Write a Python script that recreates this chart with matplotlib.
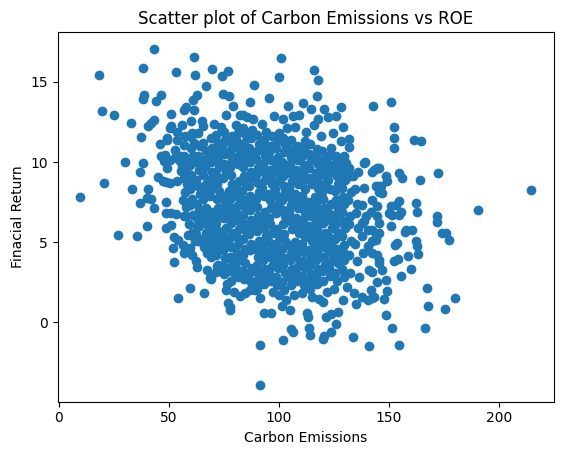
import numpy as np
from matplotlib import pyplot as plt

# points read one by one around the edge of the cloud
edge_carbon = [
    43.1, 18.5, 38.4, 61.5, 53.2, 61.8, 69.5, 66.7, 38.8, 38.4,
    46.4, 44.3, 62.7, 61.2, 19.7, 25.3, 32.8, 37.3, 40.4, 41.9,
    43.3, 50.9, 57.7, 56.9, 61.4, 50.5, 53.9, 55.9, 59.9, 65.2,
    65.7, 70.5, 46.1, 49.4, 59.9, 61.4, 56.9, 30.2, 38.4, 37.0,
    46.4, 47.9, 49.4, 53.2, 54.7, 56.9, 56.2, 55.4, 44.9, 48.6,
    20.7, 9.8, 33.3, 40.6, 37.0, 41.9, 43.3, 48.6, 48.6, 63.0,
    67.5, 69.0,
    100.7, 100.2, 116.1, 117.6, 88.6, 74.3, 76.8, 74.6, 77.3, 86.7,
    95.7, 117.1, 142.9, 79.1, 83.6, 75.8, 104.0, 110.8, 114.6, 120.6,
    128.1, 88.1, 101.7, 106.2, 109.3, 117.6, 122.1, 125.9, 128.9, 131.9,
    131.9, 128.1, 138.7, 143.2, 130.4, 125.9, 133.4, 131.1, 144.0,
    151.0, 152.3, 152.3, 152.3, 161.3, 164.3, 172.2, 164.0, 214.5, 190.4,
    171.9, 162.8, 162.1, 154.5, 153.0, 155.3, 144.7, 142.2, 148.5, 149.2,
    145.5, 147.0, 154.5, 155.7, 142.4, 144.7, 141.7, 151.5, 154.5,
    171.9, 174.1, 175.9, 177.1, 160.5, 157.2, 151.0, 162.1, 162.8, 163.2,
    153.8, 152.7, 158.7, 152.3, 154.2, 160.1, 155.6, 148.8, 144.3, 149.2,
    147.7, 167.3, 179.9, 167.8, 175.2, 148.8, 151.5, 166.3, 154.5, 141.0,
    145.5, 144.7, 142.4, 141.0, 141.7, 143.2, 142.4, 144.0, 144.7, 145.5,
    142.4,
    26.8, 35.5, 39.9, 48.6, 50.9, 52.4, 52.1, 52.4, 56.9, 60.7,
    62.2, 63.0, 59.6, 54.2, 66.0, 67.5, 69.0, 58.5, 61.4, 63.0,
    53.2, 67.5, 70.5, 67.5, 72.0, 72.0, 71.3,
    91.2, 91.6, 102.0, 106.2, 105.5, 113.8, 114.3, 119.8, 120.6, 123.6,
    125.9, 133.4, 77.6, 77.9, 93.4, 96.5, 101.4, 104.8, 112.6, 113.0,
    121.4, 123.6, 126.6, 75.8, 76.4, 82.1, 86.7, 88.1, 100.2, 118.3,
    119.8, 128.9, 134.9, 142.2, 68.6, 71.6, 73.8, 77.6, 79.9,
    139.1, 145.2, 146.2, 145.5, 136.4, 137.9, 134.2, 140.2, 147.0, 145.5,
    150.8, 150.0, 139.5, 137.9, 140.2, 145.5, 144.0, 140.2, 142.4, 157.6,
    82.1, 51.2, 49.0, 53.5, 57.2, 60.3, 63.3, 48.2, 50.5, 52.7,
    55.0, 59.5, 47.4, 50.5, 53.5, 39.9, 51.2, 58.0, 54.2, 56.5,
    59.5, 61.8, 69.3, 76.8, 103.3,
]
edge_return = [
    17.06, 15.46, 15.9, 16.56, 15.64, 15.46, 15.8, 14.77, 14.2, 13.94,
    14.2, 13.79, 14.16, 13.85, 13.2, 12.94, 12.44, 11.58, 12.27, 12.44,
    12.6, 13.0, 13.44, 13.23, 13.27, 12.13, 11.87, 12.29, 12.54, 12.54,
    12.23, 12.4, 11.13, 11.5, 11.56, 11.19, 11.08, 10.0, 9.94, 9.38,
    10.39, 10.04, 9.62, 10.46, 10.14, 10.35, 9.73, 9.41, 9.04, 8.73,
    8.69, 7.81, 8.31, 8.33, 7.44, 7.69, 7.13, 7.48, 6.81, 10.0,
    10.04, 10.77,
    16.5, 15.31, 15.77, 15.1, 14.83, 15.4, 15.66, 14.27, 14.1, 13.73,
    14.0, 14.14, 13.5, 13.52, 12.96, 12.96, 13.52, 13.69, 13.31, 13.31,
    13.41, 12.69, 12.69, 12.9, 12.96, 12.69, 12.81, 12.85, 12.19, 11.44,
    10.94, 11.33, 9.94, 9.52, 9.94, 10.39, 9.1, 9.14, 8.48,
    13.75, 12.19, 11.5, 10.88, 11.39, 11.29, 9.31, 8.85, 8.25, 7.0,
    6.64, 6.91, 7.44, 7.54, 7.33, 6.91, 9.63, 9.35, 9.1, 8.79,
    8.48, 8.06, 9.31, 9.0, 7.64, 7.23, 6.91, 6.7, 6.7,
    6.23, 5.6, 5.56, 5.14, 5.77, 5.66, 6.02, 5.1, 4.73, 4.27,
    4.94, 4.83, 4.14, 3.79, 3.94, 3.31, 2.89, 2.64, 2.48, 1.96,
    1.44, 2.13, 1.5, 1.02, 0.83, 0.44, -0.38, -0.38, -1.42, -1.48,
    3.89, 4.21, 3.16, 3.27, 2.02, 1.56, 5.04, 5.35, 6.6, 6.19,
    5.77,
    5.46, 5.39, 5.98, 5.88, 6.08, 5.35, 4.63, 3.75, 4.31, 4.21,
    3.79, 3.44, 2.16, 1.5, 1.85, 3.23, 2.69, 5.46, 5.35, 6.02,
    6.77, 5.04, 4.73, 4.31, 3.48, 5.77, 6.6,
    -3.92, -1.42, -1.11, -0.59, -0.44, -0.38, -0.79, -1.06, -0.86, -0.59,
    -0.11, -0.94, 0.77, 0.94, 0.6, 0.56, 1.02, 0.73, 0.6, 0.35,
    0.35, 0.52, 0.66, 2.02, 2.39, 1.64, 2.02, 2.33, 1.71, 1.44,
    1.29, 1.39, 1.14, 1.5, 2.75, 3.16, 3.38, 3.27, 3.06,
    9.98, 9.63, 8.48, 8.16, 2.85, 1.6, 1.81, 1.39, 3.27, 3.69,
    7.23, 6.81, 6.6, 6.19, 5.77, 5.56, 5.14, 4.73, 4.31, 5.77,
    12.96, 12.23, 11.39, 11.39, 11.6, 11.81, 11.81, 10.46, 10.14, 10.77,
    10.35, 10.04, 8.79, 8.69, 8.79, 7.75, 6.81, 6.6, 5.14, 4.83,
    4.63, 5.04, 2.95, 1.19, 1.39,
]

# ragged top and bottom of the dense part
fringe_carbon = [
    92.5, 97.8, 107.2, 112.5, 85.5, 80.3, 119.0, 124.5, 73.5, 103.6, 115.8,
    84.8, 91.5, 97.3, 106.6, 110.3, 115.2, 122.0, 89.2, 79.5, 125.2, 131.0,
]
fringe_return = [
    12.4, 12.9, 12.2, 11.9, 12.8, 12.3, 11.6, 11.8, 12.2, 12.1, 12.3,
    1.8, 1.5, 1.9, 1.7, 1.8, 1.6, 1.9, 2.0, 1.9, 2.1, 2.2,
]

# dense middle of the cloud, estimated column by column
core_carbon = [
    56.8, 57.9, 56.3, 57.4, 58.2, 56.7, 57.6, 56.9,
    60.4, 59.3, 60.9, 59.8, 60.6, 59.5, 61.0, 60.2, 59.7, 60.8, 59.9,
    63.2, 62.4, 63.8, 62.9, 63.5, 62.6, 64.0, 63.1, 62.5, 63.7, 62.8, 63.4, 64.1,
    66.1, 65.4, 66.7, 65.8, 66.4, 67.0, 65.5, 66.2, 66.9, 65.7, 66.5, 65.9, 66.8, 65.3,
    69.3, 68.6, 69.8, 69.0, 68.4, 69.6, 69.2, 68.8, 69.9, 68.5, 69.4, 69.1, 68.7, 69.7, 69.0,
    72.2, 71.6, 72.8, 71.9, 72.5, 71.4, 72.9, 72.1, 71.7, 72.6, 72.0, 71.5, 72.7, 72.3, 71.8, 72.4, 71.3,
    75.1, 74.5, 75.6, 74.8, 75.3, 74.4, 75.9, 75.0, 74.6, 75.5, 75.2, 74.7, 75.8, 74.9, 75.4, 74.3, 75.7, 75.0,
    78.2, 77.6, 78.7, 77.9, 78.4, 77.5, 78.9, 78.1, 77.7, 78.6, 78.0, 77.4, 78.8, 78.3, 77.8, 78.5, 77.6, 78.2, 78.9,
    81.3, 80.6, 81.7, 80.9, 81.4, 80.5, 81.9, 81.1, 80.7, 81.6, 81.0, 80.4, 81.8, 81.2, 80.8, 81.5, 80.6, 81.3,
    84.2, 83.6, 84.7, 83.9, 84.4, 83.5, 84.9, 84.1, 83.7, 84.6, 84.0, 83.4, 84.8, 84.3, 83.8, 84.5, 83.6, 84.2, 84.9, 83.9,
    87.3, 86.6, 87.7, 86.9, 87.4, 86.5, 87.9, 87.1, 86.7, 87.6, 87.0, 86.4, 87.8, 87.2, 86.8, 87.5, 86.6, 87.3, 87.9,
    90.2, 89.6, 90.7, 89.9, 90.4, 89.5, 90.9, 90.1, 89.7, 90.6, 90.0, 89.4, 90.8, 90.3, 89.8, 90.5, 89.6, 90.2, 90.9, 89.9,
    93.3, 92.6, 93.7, 92.9, 93.4, 92.5, 93.9, 93.1, 92.7, 93.6, 93.0, 92.4, 93.8, 93.2, 92.8, 93.5, 92.6, 93.3, 93.9,
    96.2, 95.6, 96.7, 95.9, 96.4, 95.5, 96.9, 96.1, 95.7, 96.6, 96.0, 95.4, 96.8, 96.3, 95.8, 96.5, 95.6, 96.2, 96.9,
    99.3, 98.6, 99.7, 98.9, 99.4, 98.5, 99.9, 99.1, 98.7, 99.6, 99.0, 98.4, 99.8, 99.2, 98.8, 99.5, 98.6, 99.3, 99.9,
    102.2, 101.6, 102.7, 101.9, 102.4, 101.5, 102.9, 102.1, 101.7, 102.6, 102.0, 101.4, 102.8, 102.3, 101.8, 102.5, 101.6, 102.2, 102.9, 101.9,
    105.3, 104.6, 105.7, 104.9, 105.4, 104.5, 105.9, 105.1, 104.7, 105.6, 105.0, 104.4, 105.8, 105.2, 104.8, 105.5, 104.6, 105.3,
    108.2, 107.6, 108.7, 107.9, 108.4, 107.5, 108.9, 108.1, 107.7, 108.6, 108.0, 107.4, 108.8, 108.3, 107.8, 108.5, 107.6, 108.2,
    111.3, 110.6, 111.7, 110.9, 111.4, 110.5, 111.9, 111.1, 110.7, 111.6, 111.0, 110.4, 111.8, 111.2, 110.8, 111.5, 110.6, 111.3, 111.9,
    114.2, 113.6, 114.7, 113.9, 114.4, 113.5, 114.9, 114.1, 113.7, 114.6, 114.0, 113.4, 114.8, 114.3, 113.8, 114.5, 113.6, 114.2,
    117.3, 116.6, 117.7, 116.9, 117.4, 116.5, 117.9, 117.1, 116.7, 117.6, 117.0, 116.4, 117.8, 117.2, 116.8, 117.5, 116.6, 117.3,
    120.2, 119.6, 120.7, 119.9, 120.4, 119.5, 120.9, 120.1, 119.7, 120.6, 120.0, 119.4, 120.8, 120.3, 119.8, 120.5, 119.6,
    123.3, 122.6, 123.7, 122.9, 123.4, 122.5, 123.9, 123.1, 122.7, 123.6, 123.0, 122.4, 123.8, 123.2, 122.8, 123.5,
    126.2, 125.6, 126.7, 125.9, 126.4, 125.5, 126.9, 126.1, 125.7, 126.6, 126.0, 125.4, 126.8, 126.3, 125.8, 126.5,
    129.3, 128.6, 129.7, 128.9, 129.4, 128.5, 129.9, 129.1, 128.7, 129.6, 129.0, 128.4, 129.8, 129.2, 128.8, 129.5,
    132.2, 131.6, 132.7, 131.9, 132.4, 131.5, 132.9, 132.1, 131.7,
    135.3, 134.6, 135.7, 134.9, 135.4, 134.5, 135.9,
    138.2, 137.6, 138.7, 137.9, 138.4,
]
core_return = [
    6.6, 7.2, 7.6, 8.1, 8.6, 9.0, 9.5, 10.0,
    5.6, 6.1, 6.7, 7.3, 7.7, 8.3, 8.8, 9.2, 9.8, 10.4, 10.9,
    5.1, 5.5, 6.0, 6.5, 7.0, 7.4, 8.0, 8.5, 8.9, 9.5, 10.0, 10.4, 11.0,
    4.7, 5.2, 5.6, 6.2, 6.7, 7.1, 7.7, 8.2, 8.6, 9.2, 9.7, 10.1, 10.7, 11.2,
    4.1, 4.5, 5.0, 5.5, 5.9, 6.4, 6.9, 7.9, 8.4, 8.9, 9.4, 10.0, 10.4, 10.9, 11.5,
    3.6, 4.2, 4.7, 5.2, 5.6, 6.2, 6.7, 7.1, 7.7, 8.2, 8.6, 9.2, 9.7, 10.2, 10.6, 11.2, 11.7,
    3.0, 3.5, 4.0, 4.5, 5.0, 5.4, 5.9, 6.5, 7.0, 7.4, 7.9, 9.0, 9.4, 9.9, 10.5, 11.0, 11.4, 11.9,
    2.6, 3.2, 3.7, 4.1, 4.7, 5.2, 5.6, 6.2, 6.7, 7.1, 7.7, 8.2, 8.6, 9.2, 9.7, 10.1, 10.7, 11.2, 11.6,
    2.8, 3.4, 3.9, 4.3, 4.9, 5.4, 5.8, 6.4, 6.9, 7.3, 7.9, 8.4, 8.8, 9.9, 10.3, 10.9, 11.4, 11.8,
    2.7, 3.2, 3.7, 4.2, 4.6, 5.2, 5.7, 6.1, 6.7, 7.2, 7.6, 8.2, 8.7, 9.1, 9.7, 10.2, 10.6, 11.2, 11.7, 12.1,
    2.5, 3.0, 3.4, 4.5, 4.9, 5.5, 6.0, 6.4, 7.0, 7.5, 7.9, 8.5, 9.0, 9.4, 10.0, 10.5, 10.9, 11.5, 12.0,
    2.1, 2.6, 3.1, 3.6, 4.1, 4.6, 5.1, 5.7, 6.2, 6.6, 7.2, 7.7, 8.1, 8.7, 9.2, 9.6, 10.2, 10.7, 11.1, 11.7,
    2.4, 2.9, 3.3, 3.9, 4.4, 4.8, 5.4, 5.9, 6.4, 6.9, 7.9, 8.4, 8.9, 9.4, 9.9, 10.4, 10.9, 11.4, 11.9,
    2.6, 3.1, 3.5, 4.1, 4.6, 5.0, 5.6, 6.1, 6.5, 7.1, 7.6, 8.0, 8.6, 9.1, 9.5, 10.1, 10.6, 11.0, 11.6,
    2.3, 2.8, 3.4, 3.8, 4.3, 4.9, 5.3, 5.8, 6.8, 7.3, 7.9, 8.3, 8.8, 9.4, 9.8, 10.3, 10.9, 11.3, 11.8,
    2.0, 2.5, 3.1, 3.6, 4.0, 4.6, 5.1, 5.5, 6.1, 6.6, 7.0, 7.6, 8.1, 8.5, 9.1, 9.6, 10.0, 10.6, 11.1, 11.5,
    2.3, 2.8, 3.3, 3.9, 4.3, 4.8, 5.8, 6.3, 6.9, 7.3, 7.8, 8.4, 8.8, 9.3, 9.9, 10.3, 10.8, 11.4,
    2.6, 3.1, 3.5, 4.1, 4.6, 5.0, 5.6, 6.1, 6.5, 7.1, 7.6, 8.0, 8.6, 9.1, 9.5, 10.1, 10.6, 11.0,
    2.3, 2.9, 3.4, 3.8, 4.4, 4.9, 5.3, 5.9, 6.4, 6.8, 7.4, 7.9, 8.3, 8.9, 9.4, 9.8, 10.4, 10.9, 11.3,
    2.1, 2.6, 3.0, 3.6, 4.1, 4.5, 5.1, 5.6, 6.0, 6.6, 7.1, 7.5, 8.6, 9.0, 9.6, 10.1, 10.5, 11.1,
    2.4, 2.9, 3.3, 3.9, 4.4, 4.8, 5.4, 5.9, 6.3, 6.9, 7.4, 7.8, 8.4, 8.9, 9.3, 9.9, 10.4, 10.8,
    2.6, 3.2, 3.6, 4.1, 4.7, 5.1, 5.6, 6.2, 6.6, 7.1, 7.7, 8.1, 8.6, 9.2, 9.6, 10.1, 10.7,
    2.9, 3.4, 3.8, 4.4, 4.9, 5.3, 5.9, 6.4, 6.8, 7.4, 8.3, 8.9, 9.4, 9.8, 10.4, 10.9,
    2.6, 3.1, 3.7, 4.1, 4.6, 5.2, 5.6, 6.1, 6.7, 7.1, 7.6, 8.2, 8.6, 9.1, 9.7, 10.1,
    2.8, 3.3, 3.9, 4.4, 4.8, 5.4, 5.9, 6.3, 6.9, 7.4, 7.8, 8.4, 8.9, 9.3, 9.9, 10.4,
    3.1, 4.2, 5.1, 6.1, 6.6, 7.6, 8.1, 9.1, 9.6,
    3.8, 4.9, 5.9, 6.8, 7.4, 8.3, 9.4,
    4.3, 5.4, 6.3, 7.3, 8.4,
]

carbon = np.array(edge_carbon + fringe_carbon + core_carbon)
roe = np.array(edge_return + fringe_return + core_return)

fig = plt.figure(figsize=(5.62, 4.55), dpi=100)
ax = fig.add_axes([0.1027, 0.117, 0.8826, 0.8123])
ax.scatter(carbon, roe)
ax.set_title("Scatter plot of Carbon Emissions vs ROE")
ax.set_xlabel("Carbon Emissions")
ax.set_ylabel("Finacial Return")
fig.savefig("out.png", dpi=100)
